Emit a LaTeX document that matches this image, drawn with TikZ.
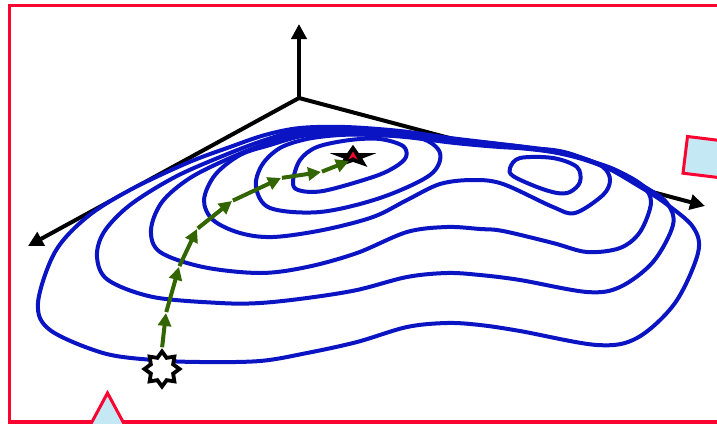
\documentclass[tikz,border=0pt]{standalone}
\usetikzlibrary{arrows.meta,shapes.geometric}
\definecolor{cblue}{RGB}{10,20,195}
\definecolor{cgreen}{RGB}{51,102,0}
\definecolor{cred}{RGB}{250,5,50}
\definecolor{clight}{RGB}{197,232,245}
\begin{document}
\begin{tikzpicture}[x=1pt,y=-1pt,
  contour/.style={draw=cblue,line width=4pt,line join=round},
  axisline/.style={black,line width=4pt,-{Triangle[length=15pt,width=15pt]}},
  stepline/.style={cgreen,line width=4pt,shorten <=1pt,-{Triangle[length=13pt,width=13pt]}},
  startstar/.style={star,star points=8,star point ratio=1.45,minimum size=35pt,inner sep=0pt,draw=black,fill=white,line width=3.8pt},
  framebox/.style={draw=cred,line width=3.5pt},
  marker/.style={draw=cred,fill=clight,line width=3pt,line join=miter}
]
\useasboundingbox (0,0) rectangle (717,423);
% frame
\draw[framebox] (9.5,5.5) rectangle (760,422);
% axes
\coordinate (O) at (299,98);
\coordinate (Z) at (299,24);
\coordinate (X) at (28,246);
\coordinate (Y) at (705,206);
\draw[axisline] (O) -- (Z);
\draw[axisline] (O) -- (X);
\draw[axisline] (O) -- (Y);
% outer contour (filled white, hides axis)
\path[contour,fill=white] plot[smooth cycle,tension=0.55] coordinates {
 (38,303) (50,330) (103,353) (153,360) (200,362) (260,361) (307,353) (357,342)
 (407,327) (447,323) (480,325) (520,331) (597,345) (637,338) (675,303) (698,253)
 (693,227) (665,203) (637,185) (603,166) (560,152) (500,144) (450,138) (400,131)
 (345,127) (300,128) (265,135) (230,147) (187,163) (130,190) (87,217) (55,252)};
\path[contour] plot[smooth cycle,tension=0.55] coordinates {
 (97,257) (108,280) (153,297) (220,303) (260,303) (307,298) (357,290) (407,277)
 (447,273) (480,275) (520,280) (587,292) (620,287) (653,262) (673,225) (667,203)
 (645,187) (617,172) (575,157) (520,146.5) (455,140) (400,133) (345,129) (300,130.5)
 (265,140) (225,155) (175,177) (130,205) (104,232)};
\path[contour] plot[smooth cycle,tension=0.55] coordinates {
 (151,230) (160,252) (203,267) (260,273) (307,267) (357,253) (407,232) (447,227)
 (480,229) (503,231) (553,243) (587,252) (620,248) (640,232) (651,203) (643,186)
 (620,172) (597,163) (560,153) (500,146) (455,141.5) (400,134.5) (345,131) (305,132)
 (270,142) (230,158) (190,178) (162,202)};
\path[contour] plot[smooth cycle,tension=0.55] coordinates {
 (204,200) (213,220) (240,233) (273,237) (323,230) (373,217) (407,200) (440,184)
 (473,180) (503,184) (553,207) (575,213) (603,195) (610,180) (603,167) (580,157)
 (553,150) (500,147) (455,143) (400,136.5) (345,134) (305,135.5) (270,145) (240,155) (215,175)};
\path[contour] plot[smooth cycle,tension=0.55] coordinates {
 (256,187) (262,165) (280,148) (307,139) (340,135) (373,135) (420,138) (440,153)
 (430,175) (380,198) (320,212) (270,208)};
\path[contour] plot[smooth cycle,tension=0.55] coordinates {
 (293,181) (300,160) (317,147) (350,140) (380,139) (403,146) (406,157) (395,167)
 (373,177) (323,191) (298,190)};
\path[contour] plot[smooth cycle,tension=0.55] coordinates {
 (510,168) (520,158) (553,158) (577,167) (580,182) (570,192) (557,193) (537,187) (513,176)};
% start and goal
\node[startstar] (start) at (162,369) {};
\coordinate (goal) at (353,157);
\begin{scope}[shift={(goal)},xscale=2]
  \fill[black] (270:12.2) -- (306:4.9) -- (342:12.2) -- (18:4.9) -- (54:12.2) -- (90:4.9)
   -- (126:12.2) -- (162:4.9) -- (198:12.2) -- (234:4.9) -- cycle;
\end{scope}
\fill[cred] (353,151.5) -- (357.5,159.5) -- (353,157) -- (348.5,159.5) -- cycle;
% path of steps
\coordinate (p0) at (start.north);
\coordinate (p1) at (166,313);
\coordinate (p2) at (179,267);
\coordinate (p3) at (197,229);
\coordinate (p4) at (232,201);
\coordinate (p5) at (281,178);
\coordinate (p6) at (321,172);
\coordinate (p7) at (349,161);
\draw[stepline] (p0) -- (p1);
\draw[stepline] (p1) -- (p2);
\draw[stepline] (p2) -- (p3);
\draw[stepline] (p3) -- (p4);
\draw[stepline] (p4) -- (p5);
\draw[stepline] (p5) -- (p6);
\draw[stepline] (p6) -- (p7);
% partially visible markers
\draw[marker] (107.5,393) -- (86,433) -- (129,433) -- cycle;
\draw[marker] (687.5,136.5) -- (683,173.2) -- (742.6,180.5) -- (747,143.8) -- cycle;
\end{tikzpicture}
\end{document}
